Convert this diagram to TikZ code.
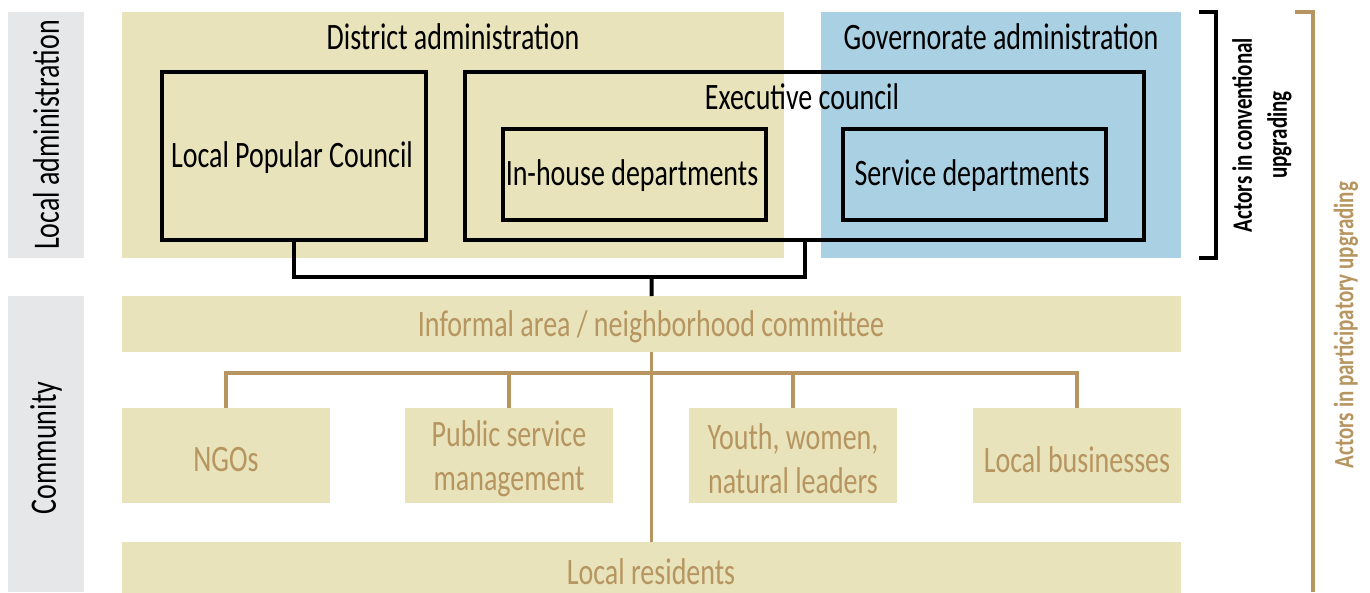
\documentclass[tikz,border=0pt]{standalone}
\usepackage{fontspec}
\setmainfont{Carlito}[FakeStretch=0.75]
\definecolor{beige}{HTML}{E8E3BA}
\definecolor{govblue}{HTML}{A9D0E3}
\definecolor{labgray}{HTML}{E6E7E8}
\definecolor{brown}{HTML}{B69560}
\tikzset{
  bg/.style={fill=#1, draw=none, inner sep=0pt, anchor=north west},
  bigtxt/.style={font=\fontsize{37.3}{44}\selectfont},
  frame/.style={draw=black, line width=4pt, inner sep=0pt, anchor=north west},
  comm/.style={bg=beige, text=brown, bigtxt, align=center},
  blackline/.style={draw=black, line width=4pt},
  brownline/.style={draw=brown, line width=3.5pt},
}
\begin{document}
\begin{tikzpicture}[x=1pt,y=-1pt]
\useasboundingbox[fill=white] (0,0) rectangle (1370,592);
% side labels
\node[bg=labgray, minimum width=76pt, minimum height=246pt] (labadm) at (8,12) {};
\node[bigtxt, rotate=90] (labadmtxt) at (46,135) {Local administration};
\node[bg=labgray, minimum width=76pt, minimum height=296pt] (labcom) at (8,296) {};
\node[bigtxt, rotate=90] (labcomtxt) at (46,448) {Community};
% backgrounds
\node[bg=beige, minimum width=662pt, minimum height=246pt] (district) at (122,12) {};
\node[bg=govblue, minimum width=360pt, minimum height=246pt] (gov) at (821,12) {};
\node[bigtxt] (districttxt) at (453,37) {District administration};
\node[bigtxt] (govtxt) at (1001,37) {Governorate administration};
% frames
\node[frame, minimum width=264pt, minimum height=168pt] (lpc) at (160,70) {};
\node[bigtxt] (lpctxt) at (292,158) {Local Popular Council};
\node[frame, minimum width=679pt, minimum height=168pt] (exec) at (463,70) {};
\node[bigtxt] (exectxt) at (802,97) {Executive council};
\node[frame, minimum width=263pt, minimum height=91pt] (inhouse) at (501,127) {};
\node[bigtxt] (inhousetxt) at (632,176) {In-house departments};
\node[frame, minimum width=263pt, minimum height=91pt] (service) at (841,127) {};
\node[bigtxt] (servicetxt) at (972,176) {Service departments};
% community boxes
\node[comm, minimum width=1059pt, minimum height=56pt] (informal) at (122,296) {};
\node[bigtxt, text=brown] (informaltxt) at (651,327) {Informal area / neighborhood committee};
\node[comm, minimum width=208pt, minimum height=95pt] (ngo) at (122,408) {};
\node[bigtxt, text=brown] (ngotxt) at (226,460) {NGOs};
\node[comm, minimum width=208pt, minimum height=95pt] (psm) at (405,408) {};
\node[bigtxt, text=brown, align=center] (psmtxt) at (509,459) {Public service\\management};
\node[comm, minimum width=208pt, minimum height=95pt] (youth) at (689,408) {};
\node[bigtxt, text=brown, align=center] (youthtxt) at (793,459) {Youth, women,\\natural leaders};
\node[comm, minimum width=208pt, minimum height=95pt] (biz) at (973,408) {};
\node[bigtxt, text=brown] (biztxt) at (1077,460) {Local businesses};
\node[comm, minimum width=1059pt, minimum height=52pt] (residents) at (122,542) {};
\node[bigtxt, text=brown] (residentstxt) at (651,572) {Local residents};
% black connector
\coordinate (j) at (651.5,277);
\draw[blackline] (lpc.south) |- (j) -| (exec.south);
\draw[blackline] (j) -- (informal.north);
% brown tree
\coordinate (bj) at (651.5,373);
\draw[brownline] (informal.south) -- (residents.north);
\draw[brownline] (ngo.north) |- (bj) -| (biz.north);
\draw[brownline] (psm.north) -- (psm.north |- bj);
\draw[brownline] (youth.north) -- (youth.north |- bj);
% brackets
\coordinate (ka) at (1199,12);
\coordinate (kb) at (1216,12);
\coordinate (kc) at (1216,258);
\coordinate (kd) at (1199,258);
\draw[blackline, line width=4.5pt] (ka) -- (kb) -- (kc) -- (kd);
\node[font=\bfseries\fontsize{28}{35}\selectfont, rotate=90, align=center] (convtxt) at (1262,135) {Actors in conventional\\upgrading};
\coordinate (pa) at (1295,12);
\coordinate (pb) at (1313,12);
\coordinate (pc) at (1313,592);
\draw[brownline] (pa) -- (pb) -- (pc);
\node[font=\bfseries\fontsize{28}{35}\selectfont, text=brown, rotate=90] (parttxt) at (1346,325) {Actors in participatory upgrading};
\end{tikzpicture}
\end{document}
